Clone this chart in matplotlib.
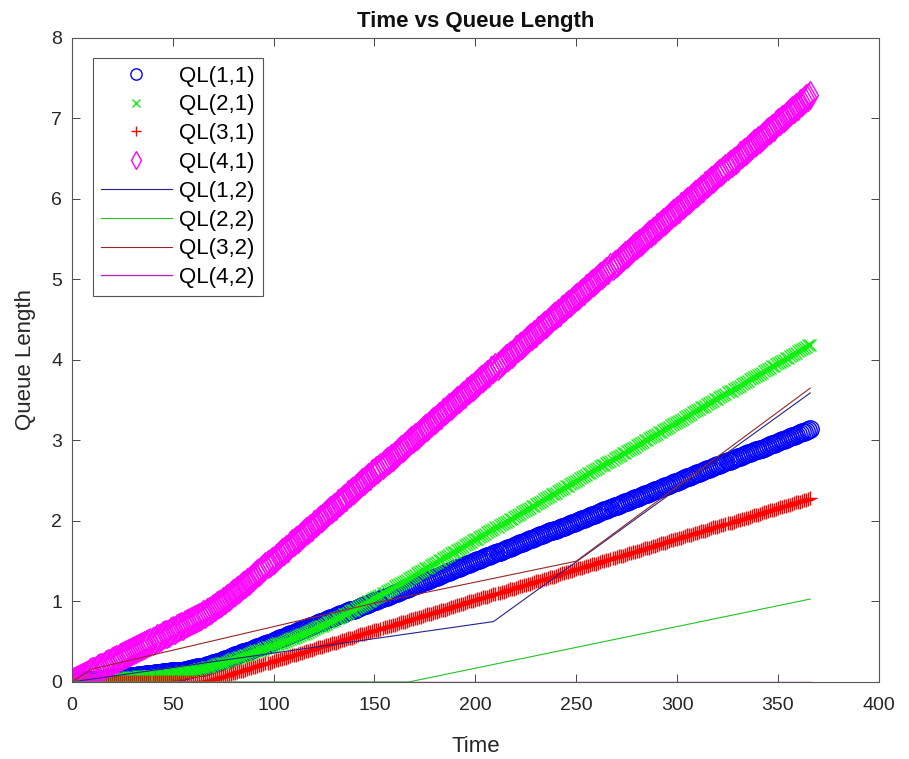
import matplotlib
matplotlib.use('Agg')
from matplotlib import pyplot as plt

plt.rcParams['font.family'] = ['Liberation Sans', 'DejaVu Sans']

# one sample per day, day 0 .. 366
days = list(range(0, 367))

ql11 = [0.00, 0.00, 0.01, 0.01, 0.01, 0.01, 0.02, 0.02, 0.02, 0.02,
        0.03, 0.03, 0.03, 0.03, 0.04, 0.04, 0.04, 0.04, 0.05, 0.05,
        0.05, 0.05, 0.06, 0.06, 0.06, 0.07, 0.07, 0.07, 0.07, 0.08,
        0.08, 0.08, 0.08, 0.09, 0.09, 0.09, 0.09, 0.10, 0.10, 0.10,
        0.10, 0.11, 0.11, 0.11, 0.11, 0.12, 0.12, 0.12, 0.12, 0.13,
        0.13, 0.13, 0.13, 0.14, 0.14, 0.14, 0.15, 0.15, 0.16, 0.16,
        0.17, 0.17, 0.18, 0.18, 0.19, 0.19, 0.20, 0.21, 0.21, 0.22,
        0.23, 0.24, 0.25, 0.25, 0.26, 0.27, 0.28, 0.29, 0.30, 0.31,
        0.32, 0.33, 0.34, 0.35, 0.36, 0.37, 0.37, 0.38, 0.39, 0.40,
        0.41, 0.42, 0.43, 0.44, 0.45, 0.46, 0.47, 0.48, 0.49, 0.50,
        0.51, 0.52, 0.53, 0.54, 0.55, 0.56, 0.57, 0.58, 0.59, 0.60,
        0.61, 0.62, 0.63, 0.64, 0.65, 0.66, 0.67, 0.68, 0.69, 0.70,
        0.71, 0.72, 0.73, 0.74, 0.75, 0.76, 0.77, 0.78, 0.79, 0.80,
        0.81, 0.82, 0.83, 0.84, 0.85, 0.86, 0.87, 0.88, 0.89, 0.90,
        0.90, 0.91, 0.92, 0.93, 0.94, 0.95, 0.96, 0.97, 0.98, 0.99,
        1.00, 1.01, 1.02, 1.03, 1.04, 1.05, 1.06, 1.07, 1.08, 1.09,
        1.10, 1.11, 1.12, 1.13, 1.14, 1.15, 1.16, 1.17, 1.18, 1.19,
        1.20, 1.21, 1.22, 1.23, 1.24, 1.25, 1.26, 1.27, 1.28, 1.29,
        1.30, 1.31, 1.32, 1.33, 1.34, 1.35, 1.36, 1.37, 1.38, 1.39,
        1.40, 1.41, 1.42, 1.43, 1.44, 1.45, 1.46, 1.47, 1.48, 1.49,
        1.50, 1.51, 1.52, 1.53, 1.54, 1.55, 1.56, 1.57, 1.58, 1.59,
        1.60, 1.61, 1.62, 1.63, 1.64, 1.65, 1.66, 1.67, 1.68, 1.69,
        1.70, 1.71, 1.72, 1.73, 1.74, 1.75, 1.76, 1.77, 1.78, 1.79,
        1.80, 1.81, 1.82, 1.83, 1.84, 1.85, 1.86, 1.87, 1.88, 1.89,
        1.89, 1.90, 1.91, 1.92, 1.93, 1.94, 1.95, 1.96, 1.97, 1.98,
        1.99, 2.00, 2.01, 2.02, 2.03, 2.04, 2.05, 2.06, 2.07, 2.08,
        2.09, 2.10, 2.11, 2.12, 2.13, 2.14, 2.15, 2.16, 2.17, 2.18,
        2.19, 2.20, 2.21, 2.22, 2.23, 2.24, 2.25, 2.26, 2.27, 2.28,
        2.29, 2.30, 2.31, 2.32, 2.33, 2.34, 2.35, 2.36, 2.37, 2.38,
        2.39, 2.40, 2.41, 2.42, 2.43, 2.44, 2.45, 2.46, 2.47, 2.48,
        2.49, 2.50, 2.51, 2.52, 2.53, 2.54, 2.55, 2.56, 2.57, 2.58,
        2.59, 2.60, 2.61, 2.62, 2.63, 2.64, 2.65, 2.66, 2.67, 2.68,
        2.69, 2.70, 2.71, 2.72, 2.73, 2.74, 2.75, 2.76, 2.77, 2.78,
        2.79, 2.80, 2.81, 2.82, 2.83, 2.84, 2.85, 2.86, 2.87, 2.88,
        2.88, 2.89, 2.90, 2.91, 2.92, 2.93, 2.94, 2.95, 2.96, 2.97,
        2.98, 2.99, 3.00, 3.01, 3.02, 3.03, 3.04, 3.05, 3.06, 3.07,
        3.08, 3.09, 3.10, 3.11, 3.12, 3.13, 3.14]

ql21 = [0.00, 0.00, 0.00, 0.01, 0.01, 0.01, 0.01, 0.01, 0.02, 0.02,
        0.02, 0.02, 0.02, 0.03, 0.03, 0.03, 0.03, 0.03, 0.04, 0.04,
        0.04, 0.04, 0.04, 0.05, 0.05, 0.05, 0.05, 0.05, 0.06, 0.06,
        0.06, 0.06, 0.06, 0.07, 0.07, 0.07, 0.07, 0.07, 0.08, 0.08,
        0.08, 0.08, 0.08, 0.09, 0.09, 0.09, 0.09, 0.09, 0.10, 0.10,
        0.10, 0.11, 0.11, 0.11, 0.12, 0.12, 0.12, 0.13, 0.13, 0.13,
        0.14, 0.15, 0.15, 0.16, 0.16, 0.17, 0.17, 0.18, 0.18, 0.19,
        0.20, 0.21, 0.22, 0.22, 0.23, 0.24, 0.24, 0.25, 0.26, 0.27,
        0.28, 0.29, 0.30, 0.31, 0.31, 0.32, 0.33, 0.34, 0.35, 0.36,
        0.37, 0.38, 0.39, 0.40, 0.40, 0.41, 0.42, 0.43, 0.44, 0.45,
        0.46, 0.47, 0.47, 0.48, 0.49, 0.50, 0.51, 0.52, 0.53, 0.54,
        0.55, 0.56, 0.57, 0.58, 0.59, 0.60, 0.61, 0.62, 0.63, 0.64,
        0.66, 0.67, 0.68, 0.69, 0.70, 0.71, 0.72, 0.74, 0.75, 0.76,
        0.77, 0.79, 0.80, 0.81, 0.82, 0.84, 0.85, 0.86, 0.88, 0.89,
        0.90, 0.92, 0.93, 0.94, 0.96, 0.97, 0.98, 1.00, 1.01, 1.03,
        1.04, 1.05, 1.07, 1.08, 1.10, 1.11, 1.13, 1.14, 1.16, 1.17,
        1.19, 1.20, 1.22, 1.23, 1.24, 1.26, 1.27, 1.29, 1.30, 1.32,
        1.33, 1.35, 1.36, 1.38, 1.39, 1.41, 1.42, 1.43, 1.45, 1.46,
        1.48, 1.49, 1.51, 1.52, 1.54, 1.55, 1.57, 1.58, 1.60, 1.61,
        1.62, 1.64, 1.65, 1.67, 1.68, 1.70, 1.71, 1.73, 1.74, 1.76,
        1.77, 1.78, 1.80, 1.81, 1.83, 1.84, 1.86, 1.87, 1.89, 1.90,
        1.92, 1.93, 1.95, 1.96, 1.97, 1.99, 2.00, 2.02, 2.03, 2.05,
        2.06, 2.08, 2.09, 2.11, 2.12, 2.14, 2.15, 2.16, 2.18, 2.19,
        2.21, 2.22, 2.24, 2.25, 2.27, 2.28, 2.30, 2.31, 2.33, 2.34,
        2.35, 2.37, 2.38, 2.40, 2.41, 2.43, 2.44, 2.46, 2.47, 2.49,
        2.50, 2.51, 2.53, 2.54, 2.56, 2.57, 2.59, 2.60, 2.62, 2.63,
        2.65, 2.66, 2.68, 2.69, 2.70, 2.72, 2.73, 2.75, 2.76, 2.78,
        2.79, 2.81, 2.82, 2.84, 2.85, 2.87, 2.88, 2.89, 2.91, 2.92,
        2.94, 2.95, 2.97, 2.98, 3.00, 3.01, 3.03, 3.04, 3.06, 3.07,
        3.08, 3.10, 3.11, 3.13, 3.14, 3.16, 3.17, 3.19, 3.20, 3.22,
        3.23, 3.24, 3.26, 3.27, 3.29, 3.30, 3.32, 3.33, 3.35, 3.36,
        3.38, 3.39, 3.41, 3.42, 3.43, 3.45, 3.46, 3.48, 3.49, 3.51,
        3.52, 3.54, 3.55, 3.57, 3.58, 3.60, 3.61, 3.62, 3.64, 3.65,
        3.67, 3.68, 3.70, 3.71, 3.73, 3.74, 3.76, 3.77, 3.79, 3.80,
        3.81, 3.83, 3.84, 3.86, 3.87, 3.89, 3.90, 3.92, 3.93, 3.95,
        3.96, 3.97, 3.99, 4.00, 4.02, 4.03, 4.05, 4.06, 4.08, 4.09,
        4.11, 4.12, 4.13, 4.15, 4.16, 4.18, 4.19]

ql31 = [0.00, 0.00, 0.00, 0.00, 0.00, 0.00, 0.00, 0.00, 0.00, 0.00,
        0.00, 0.00, 0.00, 0.00, 0.00, 0.00, 0.00, 0.00, 0.00, 0.00,
        0.00, 0.00, 0.00, 0.00, 0.00, 0.00, 0.00, 0.00, 0.00, 0.00,
        0.00, 0.00, 0.00, 0.00, 0.00, 0.00, 0.00, 0.00, 0.00, 0.00,
        0.00, 0.00, 0.00, 0.00, 0.00, 0.00, 0.00, 0.00, 0.00, 0.00,
        0.00, 0.00, 0.00, 0.00, 0.00, 0.00, 0.00, 0.00, 0.00, 0.00,
        0.00, 0.00, 0.00, 0.00, 0.00, 0.01, 0.01, 0.01, 0.02, 0.02,
        0.03, 0.04, 0.05, 0.05, 0.06, 0.07, 0.08, 0.08, 0.09, 0.10,
        0.11, 0.11, 0.12, 0.13, 0.14, 0.14, 0.15, 0.16, 0.17, 0.17,
        0.18, 0.19, 0.20, 0.21, 0.21, 0.22, 0.23, 0.24, 0.24, 0.25,
        0.26, 0.27, 0.27, 0.28, 0.29, 0.30, 0.30, 0.31, 0.32, 0.33,
        0.33, 0.34, 0.35, 0.36, 0.36, 0.37, 0.38, 0.39, 0.40, 0.40,
        0.41, 0.42, 0.43, 0.43, 0.44, 0.45, 0.46, 0.46, 0.47, 0.48,
        0.49, 0.49, 0.50, 0.51, 0.52, 0.52, 0.53, 0.54, 0.55, 0.55,
        0.56, 0.57, 0.58, 0.59, 0.59, 0.60, 0.61, 0.62, 0.62, 0.63,
        0.64, 0.65, 0.65, 0.66, 0.67, 0.68, 0.68, 0.69, 0.70, 0.71,
        0.71, 0.72, 0.73, 0.74, 0.74, 0.75, 0.76, 0.77, 0.78, 0.78,
        0.79, 0.80, 0.81, 0.81, 0.82, 0.83, 0.84, 0.84, 0.85, 0.86,
        0.87, 0.87, 0.88, 0.89, 0.90, 0.90, 0.91, 0.92, 0.93, 0.93,
        0.94, 0.95, 0.96, 0.97, 0.97, 0.98, 0.99, 1.00, 1.00, 1.01,
        1.02, 1.03, 1.03, 1.04, 1.05, 1.06, 1.06, 1.07, 1.08, 1.09,
        1.09, 1.10, 1.11, 1.12, 1.12, 1.13, 1.14, 1.15, 1.16, 1.16,
        1.17, 1.18, 1.19, 1.19, 1.20, 1.21, 1.22, 1.22, 1.23, 1.24,
        1.25, 1.25, 1.26, 1.27, 1.28, 1.28, 1.29, 1.30, 1.31, 1.31,
        1.32, 1.33, 1.34, 1.35, 1.35, 1.36, 1.37, 1.38, 1.38, 1.39,
        1.40, 1.41, 1.41, 1.42, 1.43, 1.44, 1.44, 1.45, 1.46, 1.47,
        1.47, 1.48, 1.49, 1.50, 1.50, 1.51, 1.52, 1.53, 1.54, 1.54,
        1.55, 1.56, 1.57, 1.57, 1.58, 1.59, 1.60, 1.60, 1.61, 1.62,
        1.63, 1.63, 1.64, 1.65, 1.66, 1.66, 1.67, 1.68, 1.69, 1.69,
        1.70, 1.71, 1.72, 1.73, 1.73, 1.74, 1.75, 1.76, 1.76, 1.77,
        1.78, 1.79, 1.79, 1.80, 1.81, 1.82, 1.82, 1.83, 1.84, 1.85,
        1.85, 1.86, 1.87, 1.88, 1.88, 1.89, 1.90, 1.91, 1.92, 1.92,
        1.93, 1.94, 1.95, 1.95, 1.96, 1.97, 1.98, 1.98, 1.99, 2.00,
        2.01, 2.01, 2.02, 2.03, 2.04, 2.04, 2.05, 2.06, 2.07, 2.07,
        2.08, 2.09, 2.10, 2.11, 2.11, 2.12, 2.13, 2.14, 2.14, 2.15,
        2.16, 2.17, 2.17, 2.18, 2.19, 2.20, 2.20, 2.21, 2.22, 2.23,
        2.23, 2.24, 2.25, 2.26, 2.26, 2.27, 2.28]

ql41 = [0.00, 0.01, 0.03, 0.04, 0.05, 0.06, 0.08, 0.09, 0.10, 0.12,
        0.13, 0.14, 0.15, 0.17, 0.18, 0.19, 0.20, 0.22, 0.23, 0.24,
        0.26, 0.27, 0.28, 0.29, 0.31, 0.32, 0.33, 0.35, 0.36, 0.37,
        0.38, 0.40, 0.41, 0.42, 0.44, 0.45, 0.46, 0.47, 0.49, 0.50,
        0.51, 0.52, 0.54, 0.55, 0.56, 0.58, 0.59, 0.60, 0.61, 0.63,
        0.64, 0.65, 0.67, 0.68, 0.69, 0.70, 0.72, 0.73, 0.74, 0.76,
        0.77, 0.78, 0.79, 0.81, 0.82, 0.84, 0.85, 0.87, 0.88, 0.90,
        0.92, 0.93, 0.95, 0.97, 0.98, 1.00, 1.02, 1.04, 1.06, 1.08,
        1.10, 1.12, 1.14, 1.16, 1.18, 1.20, 1.22, 1.24, 1.26, 1.28,
        1.31, 1.33, 1.35, 1.37, 1.39, 1.41, 1.44, 1.46, 1.48, 1.50,
        1.52, 1.54, 1.57, 1.59, 1.61, 1.63, 1.65, 1.67, 1.70, 1.72,
        1.74, 1.76, 1.78, 1.80, 1.83, 1.85, 1.87, 1.89, 1.91, 1.93,
        1.96, 1.98, 2.00, 2.02, 2.04, 2.06, 2.09, 2.11, 2.13, 2.15,
        2.17, 2.19, 2.22, 2.24, 2.26, 2.28, 2.30, 2.33, 2.35, 2.37,
        2.39, 2.41, 2.43, 2.46, 2.48, 2.50, 2.52, 2.54, 2.56, 2.59,
        2.61, 2.63, 2.65, 2.67, 2.69, 2.72, 2.74, 2.76, 2.78, 2.80,
        2.82, 2.85, 2.87, 2.89, 2.91, 2.93, 2.95, 2.98, 3.00, 3.02,
        3.04, 3.06, 3.08, 3.11, 3.13, 3.15, 3.17, 3.19, 3.22, 3.24,
        3.26, 3.28, 3.30, 3.32, 3.35, 3.37, 3.39, 3.41, 3.43, 3.45,
        3.48, 3.50, 3.52, 3.54, 3.56, 3.58, 3.61, 3.63, 3.65, 3.67,
        3.69, 3.71, 3.74, 3.76, 3.78, 3.80, 3.82, 3.84, 3.87, 3.89,
        3.91, 3.93, 3.95, 3.97, 4.00, 4.02, 4.04, 4.06, 4.08, 4.10,
        4.13, 4.15, 4.17, 4.19, 4.21, 4.24, 4.26, 4.28, 4.30, 4.32,
        4.34, 4.37, 4.39, 4.41, 4.43, 4.45, 4.47, 4.50, 4.52, 4.54,
        4.56, 4.58, 4.60, 4.63, 4.65, 4.67, 4.69, 4.71, 4.73, 4.76,
        4.78, 4.80, 4.82, 4.84, 4.86, 4.89, 4.91, 4.93, 4.95, 4.97,
        4.99, 5.02, 5.04, 5.06, 5.08, 5.10, 5.12, 5.15, 5.17, 5.19,
        5.21, 5.23, 5.25, 5.28, 5.30, 5.32, 5.34, 5.36, 5.39, 5.41,
        5.43, 5.45, 5.47, 5.49, 5.52, 5.54, 5.56, 5.58, 5.60, 5.62,
        5.65, 5.67, 5.69, 5.71, 5.73, 5.75, 5.78, 5.80, 5.82, 5.84,
        5.86, 5.88, 5.91, 5.93, 5.95, 5.97, 5.99, 6.01, 6.04, 6.06,
        6.08, 6.10, 6.12, 6.14, 6.17, 6.19, 6.21, 6.23, 6.25, 6.27,
        6.30, 6.32, 6.34, 6.36, 6.38, 6.41, 6.43, 6.45, 6.47, 6.49,
        6.51, 6.54, 6.56, 6.58, 6.60, 6.62, 6.64, 6.67, 6.69, 6.71,
        6.73, 6.75, 6.77, 6.80, 6.82, 6.84, 6.86, 6.88, 6.90, 6.93,
        6.95, 6.97, 6.99, 7.01, 7.03, 7.06, 7.08, 7.10, 7.12, 7.14,
        7.16, 7.19, 7.21, 7.23, 7.25, 7.27, 7.29]

# second set of queues, stored as polyline vertices
ql12_t = [0, 209, 366]
ql12 = [0.00, 0.75, 3.59]
ql22_t = [0, 167, 366]
ql22 = [0.00, 0.00, 1.03]
ql32_t = [0, 10, 150, 250, 366]
ql32 = [0.00, 0.16, 0.98, 1.50, 3.65]
ql42_t = [0, 366]
ql42 = [0.00, 0.00]

fig = plt.figure(figsize=(9.09, 7.59), dpi=100)
ax = fig.add_axes([0.079, 0.1015, 0.8878, 0.8485])

mk = dict(linestyle='none', markerfacecolor='none', markeredgewidth=1.0)
ax.plot(days, ql11, marker='o', color='#0000ff', markersize=12.5, label='QL(1,1)', **mk)
ax.plot(days, ql21, marker='x', color='#11ee11', markersize=9, label='QL(2,1)', **mk)
ax.plot(days, ql31, marker='+', color='#ff0000', markersize=10, label='QL(3,1)', **mk)
ax.plot(days, ql41, marker='d', color='#ff00ff', markersize=14, label='QL(4,1)', **mk)

ax.plot(ql12_t, ql12, color='#23238f', linewidth=0.8, label='QL(1,2)')
ax.plot(ql22_t, ql22, color='#22c322', linewidth=0.8, label='QL(2,2)')
ax.plot(ql32_t, ql32, color='#992525', linewidth=0.8, label='QL(3,2)')
ax.plot(ql42_t, ql42, color='#b030b8', linewidth=1.0, label='QL(4,2)')

ax.set_xlim(0, 400)
ax.set_ylim(0, 8)
ax.set_xticks(range(0, 401, 50))
ax.set_yticks(range(0, 9))

ax.tick_params(direction='in', top=True, right=True, length=6, width=0.6,
               colors='#262626', labelsize=14)
ax.tick_params(axis='x', pad=11)
ax.tick_params(axis='y', pad=7)
for s in ax.spines.values():
    s.set_color('#555555')
    s.set_linewidth(0.8)

ax.set_title('Time vs Queue Length', fontsize=16, fontweight='bold', color='#111111', pad=8)
ax.set_xlabel('Time', fontsize=16, color='#262626', labelpad=16)
ax.set_ylabel('Queue Length', fontsize=16, color='#262626', labelpad=11)

leg = ax.legend(loc='upper left', bbox_to_anchor=(0.026, 0.969), borderaxespad=0,
                fontsize=16, numpoints=1, handlelength=3.2, handletextpad=0.35,
                labelspacing=0.35, markerscale=0.65, fancybox=False, framealpha=1,
                borderpad=0.35)
leg.get_frame().set_edgecolor('#555555')
leg.get_frame().set_linewidth(0.8)

plt.savefig('out.png', dpi=100)
